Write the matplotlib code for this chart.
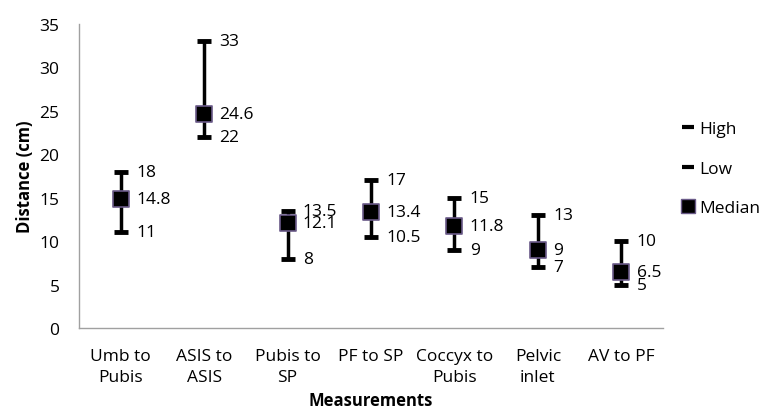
import matplotlib.pyplot as plt
from matplotlib.lines import Line2D

# données
categories = ["Umb to\nPubis", "ASIS to\nASIS", "Pubis to\nSP", "PF to SP",
              "Coccyx to\nPubis", "Pelvic\ninlet", "AV to PF"]
high = [18, 33, 13.5, 17, 15, 13, 10]
low = [11, 22, 8, 10.5, 9, 7, 5]
median = [14.8, 24.6, 12.1, 13.4, 11.8, 9, 6.5]

plt.rcParams["font.family"] = ["Open Sans", "DejaVu Sans"]
FS = 12.5

fig = plt.figure(figsize=(7.63, 4.14), dpi=100)
ax = fig.add_axes([0.1035, 0.205, 0.7655, 0.735])

x = list(range(len(categories)))

# barres high-low
ax.vlines(x, low, high, color="black", lw=2.5, zorder=2)
ax.scatter(x, high, marker="_", s=110, color="black", linewidths=3.5, zorder=3)
ax.scatter(x, low, marker="_", s=110, color="black", linewidths=3.5, zorder=3)
ax.scatter(x, median, marker="s", s=140, color="black",
           edgecolors="#6a5a88", linewidths=1.2, zorder=4)

# étiquettes
for i in x:
    for v in (high[i], low[i], median[i]):
        ax.annotate(f"{v:g}", (i, v), xytext=(11, 0), textcoords="offset points",
                    va="center", ha="left", fontsize=FS)

ax.set_xlim(-0.5, len(categories) - 0.5)
ax.set_ylim(0, 35)
ax.set_yticks(range(0, 36, 5))
ax.set_xticks(x)
ax.set_xticklabels(categories, fontsize=FS, linespacing=1.45)
ax.tick_params(axis="y", labelsize=FS, length=0, pad=14)
ax.tick_params(axis="x", length=0, pad=14)

for s in ["top", "right"]:
    ax.spines[s].set_visible(False)
for s in ["left", "bottom"]:
    ax.spines[s].set_color("#a0a0a0")
    ax.spines[s].set_linewidth(1)

ax.set_ylabel("Distance (cm)", fontsize=12, fontweight="bold", labelpad=4)
ax.set_xlabel("Measurements", fontsize=12, fontweight="bold", labelpad=4)

handles = [
    Line2D([], [], color="black", marker="_", ls="none", markersize=9, markeredgewidth=3),
    Line2D([], [], color="black", marker="_", ls="none", markersize=9, markeredgewidth=3),
    Line2D([], [], color="black", marker="s", ls="none", markersize=10,
           markeredgecolor="#6a5a88"),
]
fig.legend(handles, ["High", "Low", "Median"], loc="center left",
           bbox_to_anchor=(0.875, 0.59), frameon=False, fontsize=FS,
           handlelength=0.6, handletextpad=0.3, labelspacing=1.35)

fig.savefig("out.png", dpi=100)
